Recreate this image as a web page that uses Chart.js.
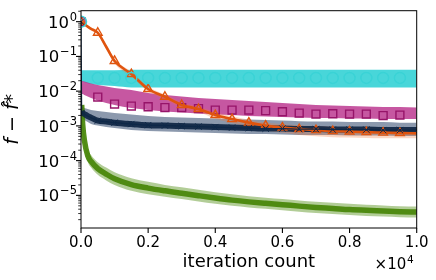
<!DOCTYPE html>
<html><head><meta charset="utf-8">
<script src="https://cdn.jsdelivr.net/npm/chart.js@4/dist/chart.umd.min.js"></script>
<style>html,body{margin:0;padding:0;background:#fff}canvas{display:block}</style>
</head><body>
<canvas id="c" width="436" height="280"></canvas>
<script>
// iteration count in units of 1e4
const iters = [0, 0.002, 0.005, 0.01, 0.02, 0.03, 0.05, 0.075, 0.1, 0.15, 0.2, 0.25, 0.3, 0.35, 0.4, 0.45, 0.5, 0.55, 0.6, 0.65, 0.7, 0.75, 0.8, 0.85, 0.9, 0.95, 1.0];
const xTickValues = [0, 0.2, 0.4, 0.6, 0.8, 1.0];
const yTickPowers = [0, -1, -2, -3, -4, -5];

// cyan series
const cyanMean = [1, 0.024, 0.024, 0.024, 0.024, 0.024, 0.024, 0.024, 0.024, 0.024, 0.024, 0.024, 0.024, 0.024, 0.024, 0.024, 0.024, 0.024, 0.024, 0.024, 0.024, 0.024, 0.024, 0.024, 0.024, 0.024, 0.024];
const cyanHi = [1, 0.040, 0.040, 0.040, 0.040, 0.040, 0.040, 0.040, 0.040, 0.041, 0.041, 0.041, 0.041, 0.041, 0.041, 0.041, 0.041, 0.041, 0.041, 0.041, 0.041, 0.041, 0.041, 0.041, 0.041, 0.041, 0.041];
const cyanLo = [1, 0.020, 0.019, 0.018, 0.017, 0.016, 0.015, 0.0145, 0.014, 0.0128, 0.0128, 0.0128, 0.0128, 0.0128, 0.0128, 0.0128, 0.0128, 0.0128, 0.0128, 0.0128, 0.0128, 0.0128, 0.0128, 0.0128, 0.0128, 0.0128, 0.0128];

// magenta series
const magentaMean = [1, 0.0115, 0.0112, 0.0104, 0.0094, 0.00853, 0.00676, 0.00518, 0.00425, 0.00372, 0.00355, 0.00337, 0.00337, 0.00315, 0.00285, 0.00285, 0.00285, 0.00275, 0.00255, 0.00234, 0.00219, 0.00224, 0.00219, 0.00219, 0.00198, 0.00205, 0.00205];
const magentaHi = [1, 0.0202, 0.0195, 0.0189, 0.0177, 0.01656, 0.0150, 0.0136, 0.01229, 0.01076, 0.00882, 0.00772, 0.00699, 0.00633, 0.00592, 0.00554, 0.00518, 0.00485, 0.00454, 0.00425, 0.00398, 0.00385, 0.00372, 0.0036, 0.00348, 0.00348, 0.00337];
const magentaLo = [1, 0.00853, 0.00825, 0.00772, 0.00699, 0.00633, 0.00536, 0.00454, 0.00398, 0.00326, 0.00285, 0.00258, 0.00242, 0.00226, 0.00212, 0.00205, 0.00192, 0.00185, 0.00179, 0.00173, 0.00168, 0.00168, 0.00162, 0.00162, 0.00157, 0.00157, 0.00157];

// navy series
const navyMean = [1, 0.00267, 0.00234, 0.0022, 0.00192, 0.00173, 0.00142, 0.00133, 0.00124, 0.00113, 0.00105, 0.00102, 0.000987, 0.000955, 0.000923, 0.000893, 0.000865, 0.000836, 0.000836, 0.000809, 0.000809, 0.000782, 0.000782, 0.000782, 0.000757, 0.000757, 0.000757];
const navyHi = [1, 0.00398, 0.00348, 0.00326, 0.00305, 0.00285, 0.00267, 0.0025, 0.00234, 0.00212, 0.00192, 0.00179, 0.00173, 0.00168, 0.00162, 0.00157, 0.00152, 0.00147, 0.00142, 0.00137, 0.00133, 0.00133, 0.00129, 0.00129, 0.00129, 0.00124, 0.00124];
const navyLo = [1, 0.00179, 0.00157, 0.00147, 0.00129, 0.00113, 0.00102, 0.000923, 0.000865, 0.000757, 0.000708, 0.000685, 0.000663, 0.000641, 0.000621, 0.0006, 0.000581, 0.000581, 0.000561, 0.000543, 0.000543, 0.000543, 0.000525, 0.000525, 0.000525, 0.000508, 0.000508];

// orange series
const orangeMean = [1, 0.97, 0.92, 0.85, 0.72, 0.62, 0.48, 0.19, 0.074, 0.031, 0.0115, 0.0069, 0.0040, 0.00305, 0.00205, 0.00157, 0.00124, 0.00102, 0.00089, 0.00081, 0.00076, 0.00071, 0.00069, 0.00066, 0.00064, 0.00062, 0.00061];
const orangeHi = [1, 1.0, 0.96, 0.9, 0.78, 0.68, 0.54, 0.22, 0.086, 0.036, 0.0135, 0.0081, 0.0047, 0.0036, 0.0025, 0.0019, 0.0015, 0.00125, 0.00112, 0.00104, 0.00099, 0.00095, 0.00093, 0.0009, 0.00088, 0.00086, 0.00085];
const orangeLo = [1, 0.94, 0.88, 0.8, 0.66, 0.56, 0.42, 0.16, 0.062, 0.026, 0.0097, 0.0058, 0.0033, 0.0025, 0.0016, 0.00122, 0.00094, 0.00075, 0.00063, 0.00055, 0.0005, 0.00047, 0.00046, 0.00045, 0.00044, 0.00044, 0.00044];

// green series
const greenMean = [1, 4.0e-3, 1.1e-3, 3.9e-4, 1.4e-4, 9.5e-5, 5.9e-5, 4.1e-5, 3.0e-5, 2.04e-5, 1.62e-5, 1.35e-5, 1.15e-5, 9.8e-6, 8.4e-6, 7.3e-6, 6.5e-6, 5.9e-6, 5.4e-6, 4.9e-6, 4.5e-6, 4.2e-6, 3.9e-6, 3.7e-6, 3.55e-6, 3.4e-6, 3.3e-6];
const greenHi = [1, 6.5e-3, 1.7e-3, 6.0e-4, 2.1e-4, 1.45e-4, 9.0e-5, 6.3e-5, 4.6e-5, 3.1e-5, 2.45e-5, 2.0e-5, 1.7e-5, 1.45e-5, 1.23e-5, 1.07e-5, 9.5e-6, 8.6e-6, 7.9e-6, 7.1e-6, 6.5e-6, 6.1e-6, 5.7e-6, 5.4e-6, 5.15e-6, 4.9e-6, 4.8e-6];
const greenLo = [1, 2.4e-3, 7.0e-4, 2.6e-4, 9.3e-5, 6.3e-5, 3.9e-5, 2.7e-5, 2.0e-5, 1.35e-5, 1.08e-5, 9.1e-6, 7.8e-6, 6.7e-6, 5.7e-6, 5.0e-6, 4.5e-6, 4.1e-6, 3.75e-6, 3.4e-6, 3.1e-6, 2.9e-6, 2.7e-6, 2.55e-6, 2.45e-6, 2.35e-6, 2.3e-6];

const C = {
  cyan: 'rgb(58,211,214)', magenta: 'rgb(150,20,105)', navy: 'rgb(14,40,72)',
  orange: 'rgb(224,84,14)', green: 'rgb(72,136,8)'
};

const pts = ys => iters.map((x, i) => ({x: x, y: ys[i]}));
const isMarker = x => x < 0.999 && Math.abs(x * 20 - Math.round(x * 20)) < 1e-6;
const mr = r => ctx => isMarker(iters[ctx.dataIndex]) ? r : 0;
const clear = 'rgba(0,0,0,0)';

function band(hi, lo, color, order) {
  return [
    {data: pts(hi), fill: '+1', backgroundColor: color, borderColor: clear, borderWidth: 1, pointRadius: 0, order: order},
    {data: pts(lo), fill: false, borderColor: clear, borderWidth: 1, pointRadius: 0, order: order}
  ];
}
function core(ys, color, width, order) {
  return {data: pts(ys).slice(1), fill: false, borderColor: color, borderWidth: width, pointRadius: 0, order: order, borderCapStyle: 'butt'};
}
function markers(ys, color, style, r, lineW, showLine, order, pw) {
  return {data: pts(ys), fill: false, showLine: showLine, borderColor: color, borderWidth: lineW,
    pointStyle: style, pointRadius: mr(r), pointBorderColor: color, pointBorderWidth: pw,
    pointBackgroundColor: clear, order: order};
}

const SUP_MINUS = '\u2212';

const datasets = [
  markers(cyanMean, C.cyan, 'circle', 5.5, 0, false, 0, 1.5),
  markers(navyMean, C.navy, 'crossRot', 4.5, 1.2, true, 1, 1),
  markers(orangeMean, C.orange, 'triangle', 5, 2.6, true, 2, 1.4),
  markers(magentaMean, C.magenta, 'rect', 5.6, 0, true, 3, 1.4),
  core(navyMean, 'rgba(12,36,66,0.9)', 6, 5),
  core(greenMean, 'rgba(70,134,6,0.92)', 5.5, 6),
  ...band(orangeHi, orangeLo, 'rgba(240,120,60,0.3)', 10),
  ...band(navyHi, navyLo, 'rgba(45,70,105,0.55)', 11),
  ...band(magentaHi, magentaLo, 'rgba(182,40,135,0.78)', 12),
  ...band(cyanHi, cyanLo, 'rgba(58,211,214,0.93)', 13),
  ...band(greenHi, greenLo, 'rgba(72,136,8,0.42)', 14)
];

// draws "base^exp" like mathtext, right aligned at xr, centred on y
function drawPow(ctx, base, exp, xr, yMid, size, expSize) {
  ctx.textBaseline = 'alphabetic';
  ctx.textAlign = 'left';
  ctx.font = expSize + 'px "DejaVu Sans"';
  const ew = ctx.measureText(exp).width;
  ctx.font = size + 'px "DejaVu Sans"';
  const bw = ctx.measureText(base).width;
  const gap = 0.8;
  const x0 = xr - ew - gap - bw;
  const baseY = yMid + size * 0.364;
  ctx.fillText(base, x0, baseY);
  ctx.font = expSize + 'px "DejaVu Sans"';
  ctx.fillText(exp, x0 + bw + gap, baseY - size * 0.42);
}

const framePlugin = {
  id: 'frame',
  afterDraw(chart) {
    const {ctx, chartArea: a, scales} = chart;
    const x = scales.x, y = scales.y;
    ctx.save();
    ctx.strokeStyle = '#000';
    ctx.lineWidth = 1;
    ctx.strokeRect(a.left, a.top, a.right - a.left, a.bottom - a.top);
    const seg = (x1, y1, x2, y2, w) => { ctx.lineWidth = w; ctx.beginPath(); ctx.moveTo(x1, y1); ctx.lineTo(x2, y2); ctx.stroke(); };
    xTickValues.forEach(v => { const px = x.getPixelForValue(v); seg(px, a.bottom, px, a.bottom + 5, 1.1); });
    for (let e = -6; e <= 0; e++) {
      for (let m = 1; m <= 9; m++) {
        const v = m * Math.pow(10, e);
        if (v < y.min || v > y.max) continue;
        const py = y.getPixelForValue(v);
        if (m === 1) seg(a.left - 5, py, a.left, py, 1.1); else seg(a.left - 2.8, py, a.left, py, 0.8);
      }
    }
    ctx.fillStyle = '#000';
    yTickPowers.forEach(p => {
      const py = y.getPixelForValue(Math.pow(10, p));
      const exp = p < 0 ? SUP_MINUS + String(-p) : String(p);
      drawPow(ctx, '10', exp, a.left - 4, py, 16.5, 11.5);
    });
    drawPow(ctx, '\u00D710', '4', a.right - 3, 263.5, 15, 10.5);
    ctx.restore();
  }
};

Chart.defaults.font.family = '"DejaVu Sans", sans-serif';
Chart.defaults.color = '#000';

new Chart(document.getElementById('c'), {
  type: 'line',
  data: {datasets: datasets},
  options: {
    responsive: false,
    devicePixelRatio: 1,
    animation: false,
    events: [],
    layout: {padding: {top: 10.7, right: 19.3, left: 0, bottom: 0}},
    elements: {line: {cubicInterpolationMode: 'monotone'}, point: {hoverRadius: 0}},
    plugins: {legend: {display: false}, tooltip: {enabled: false}},
    scales: {
      x: {
        type: 'linear', min: 0, max: 1,
        grid: {display: false, drawTicks: false},
        border: {display: false},
        afterFit: s => { s.height = 52; },
        ticks: {stepSize: 0.2, padding: 6, font: {size: 15}, color: '#000', autoSkip: false,
          callback: v => xTickValues.some(t => Math.abs(t - v) < 1e-9) ? Number(v).toFixed(1) : ''},
        title: {display: true, text: 'iteration count', font: {size: 18}, color: '#000', padding: {top: 0, bottom: 7}}
      },
      y: {
        type: 'logarithmic', min: 1.15e-6, max: 2.07,
        grid: {display: false, drawTicks: false},
        border: {display: false},
        afterFit: s => { s.width = 81; },
        ticks: {display: false},
        title: {display: true, text: 'f \u2212 f\u0302*', font: {size: 19, style: 'italic'}, color: '#000', padding: {top: 2, bottom: 0}}
      }
    }
  },
  plugins: [framePlugin]
});
</script>
</body></html>
